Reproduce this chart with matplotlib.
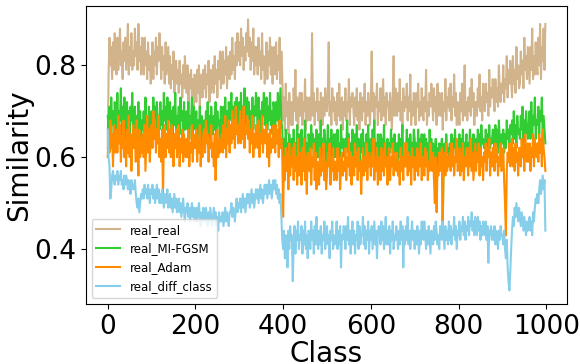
import numpy as np
import matplotlib
matplotlib.use("Agg")
import matplotlib.pyplot as plt

# values, one every 2 classes, in hundredths
# (each row = 20 classes)
classes = np.arange(0, 1000, 2)

real_real = np.array([
    62, 78, 86, 80, 84, 77, 85, 79, 87, 81,
    78, 86, 79, 84, 88, 80, 83, 77, 85, 81,
    86, 79, 83, 89, 78, 84, 80, 87, 79, 83,
    80, 88, 82, 85, 79, 89, 81, 84, 78, 86,
    84, 78, 86, 80, 83, 77, 85, 79, 82, 76,
    79, 85, 77, 83, 80, 86, 78, 84, 81, 87,
    83, 77, 84, 79, 82, 76, 85, 78, 81, 84,
    76, 82, 75, 80, 77, 83, 74, 79, 81, 76,
    79, 74, 81, 76, 78, 73, 80, 75, 82, 77,
    74, 80, 72, 78, 75, 79, 73, 77, 71, 78,
    77, 72, 79, 74, 80, 71, 76, 78, 73, 79,
    75, 80, 73, 78, 76, 81, 72, 79, 74, 77,
    80, 74, 82, 76, 79, 73, 81, 77, 83, 75,
    77, 83, 76, 81, 78, 84, 75, 80, 82, 77,
    83, 78, 86, 79, 82, 77, 85, 80, 87, 81,
    85, 80, 88, 82, 86, 79, 84, 81, 87, 83,
    90, 82, 86, 79, 85, 81, 88, 78, 84, 80,
    84, 78, 86, 80, 83, 77, 87, 79, 82, 76,
    79, 85, 77, 83, 80, 86, 78, 84, 76, 82,
    84, 78, 85, 77, 82, 79, 86, 76, 83, 78,
    68, 73, 66, 76, 69, 72, 65, 74, 70, 67,
    72, 67, 75, 70, 79, 68, 73, 66, 71, 74,
    69, 74, 67, 72, 70, 77, 66, 73, 68, 71,
    73, 68, 71, 87, 69, 74, 67, 72, 70, 75,
    68, 72, 66, 74, 70, 67, 73, 69, 75, 71,
    70, 74, 85, 69, 72, 67, 75, 70, 73, 68,
    72, 67, 74, 69, 76, 68, 71, 73, 66, 72,
    69, 75, 68, 72, 70, 77, 67, 73, 71, 74,
    71, 67, 73, 69, 75, 68, 72, 66, 74, 70,
    68, 73, 70, 76, 67, 72, 69, 74, 71, 67,
    72, 83, 70, 74, 68, 73, 71, 76, 67, 72,
    70, 75, 68, 72, 77, 69, 73, 67, 74, 71,
    72, 68, 74, 70, 66, 73, 82, 69, 75, 71,
    69, 74, 70, 77, 68, 72, 67, 75, 70, 73,
    71, 76, 68, 73, 70, 78, 67, 72, 69, 74,
    70, 67, 74, 71, 76, 68, 72, 69, 75, 70,
    68, 73, 70, 79, 67, 72, 69, 74, 71, 76,
    72, 68, 75, 70, 73, 67, 76, 69, 74, 70,
    69, 74, 66, 72, 70, 77, 68, 73, 71, 75,
    70, 76, 68, 73, 71, 78, 69, 74, 67, 72,
    71, 67, 74, 70, 76, 68, 73, 80, 69, 72,
    68, 73, 70, 75, 69, 77, 71, 74, 67, 72,
    72, 69, 75, 71, 78, 70, 73, 68, 76, 71,
    70, 76, 72, 74, 69, 79, 71, 75, 73, 77,
    73, 70, 77, 72, 75, 71, 80, 74, 72, 76,
    74, 80, 72, 77, 75, 82, 73, 79, 76, 81,
    77, 73, 82, 76, 79, 74, 84, 77, 80, 75,
    76, 83, 78, 81, 75, 86, 79, 82, 77, 84,
    80, 76, 84, 79, 88, 77, 82, 78, 85, 80,
    78, 86, 80, 89, 77, 84, 81, 88, 79, 89,
]) / 100

real_mifgsm = np.array([
    69, 66, 71, 64, 73, 67, 70, 63, 72, 68,
    66, 74, 65, 70, 68, 75, 64, 71, 67, 73,
    69, 64, 72, 66, 70, 63, 71, 68, 74, 65,
    67, 71, 63, 69, 66, 72, 64, 70, 62, 68,
    66, 70, 64, 73, 67, 69, 63, 71, 65, 68,
    70, 65, 73, 67, 71, 64, 72, 68, 69, 66,
    72, 67, 70, 65, 74, 68, 71, 66, 73, 69,
    68, 72, 66, 70, 64, 71, 67, 74, 65, 69,
    67, 71, 65, 73, 68, 70, 64, 72, 66, 69,
    70, 66, 72, 64, 69, 67, 73, 65, 71, 68,
    66, 70, 63, 68, 65, 71, 62, 69, 67, 64,
    68, 64, 70, 66, 72, 63, 69, 65, 71, 67,
    65, 69, 66, 72, 64, 70, 67, 68, 63, 71,
    69, 65, 71, 67, 73, 66, 70, 64, 72, 68,
    70, 74, 67, 71, 65, 72, 68, 73, 66, 70,
    72, 68, 74, 66, 71, 69, 75, 67, 70, 73,
    68, 72, 65, 70, 67, 73, 66, 71, 69, 74,
    71, 67, 73, 68, 70, 65, 72, 69, 74, 67,
    69, 73, 66, 71, 68, 74, 67, 70, 65, 72,
    70, 66, 72, 68, 74, 67, 71, 75, 68, 66,
    58, 64, 60, 66, 61, 63, 57, 65, 62, 60,
    64, 59, 66, 61, 63, 58, 67, 60, 65, 62,
    61, 66, 59, 64, 62, 68, 60, 63, 58, 65,
    63, 60, 67, 62, 65, 59, 64, 61, 66, 60,
    60, 65, 62, 68, 59, 64, 61, 66, 63, 58,
    62, 67, 60, 64, 61, 66, 58, 63, 65, 60,
    65, 61, 66, 59, 63, 60, 67, 62, 64, 61,
    60, 64, 62, 68, 61, 65, 59, 63, 60, 66,
    63, 59, 65, 61, 67, 60, 64, 58, 62, 65,
    61, 66, 60, 63, 59, 65, 62, 67, 60, 63,
    64, 60, 66, 62, 68, 59, 63, 61, 65, 60,
    62, 65, 59, 64, 61, 67, 60, 63, 58, 64,
    60, 63, 61, 66, 62, 64, 59, 65, 61, 63,
    63, 59, 65, 60, 64, 62, 67, 60, 63, 61,
    61, 66, 62, 64, 59, 65, 61, 63, 60, 66,
    64, 60, 63, 61, 66, 59, 64, 62, 65, 60,
    62, 65, 60, 64, 61, 63, 59, 66, 62, 64,
    60, 63, 61, 58, 64, 50, 62, 60, 63, 59,
    61, 64, 46, 60, 63, 59, 65, 61, 62, 60,
    63, 60, 65, 61, 64, 62, 66, 60, 63, 61,
    62, 65, 60, 64, 61, 66, 59, 63, 62, 65,
    60, 63, 61, 66, 62, 64, 60, 65, 61, 63,
    64, 61, 66, 62, 65, 60, 67, 63, 64, 62,
    62, 66, 63, 65, 61, 67, 62, 64, 63, 66,
    65, 62, 67, 63, 66, 61, 68, 64, 62, 65,
    63, 66, 61, 65, 62, 68, 64, 66, 63, 67,
    65, 68, 63, 70, 64, 67, 62, 69, 65, 66,
    64, 69, 66, 71, 63, 68, 65, 70, 67, 64,
    66, 70, 64, 72, 65, 69, 67, 73, 64, 68,
    67, 71, 65, 70, 68, 73, 64, 69, 66, 63,
]) / 100

real_adam = np.array([
    60, 66, 61, 68, 62, 65, 58, 67, 61, 64,
    66, 61, 69, 63, 67, 59, 65, 62, 68, 60,
    64, 58, 66, 61, 69, 60, 65, 57, 63, 67,
    62, 66, 59, 68, 63, 56, 66, 60, 64, 61,
    65, 60, 67, 57, 63, 69, 61, 66, 59, 64,
    67, 62, 70, 64, 68, 61, 66, 63, 69, 60,
    64, 59, 66, 52, 63, 67, 60, 65, 62, 68,
    61, 66, 60, 67, 63, 58, 65, 62, 66, 60,
    63, 67, 58, 64, 61, 66, 59, 65, 62, 60,
    64, 60, 66, 58, 63, 61, 67, 59, 65, 62,
    62, 66, 59, 64, 61, 67, 58, 63, 60, 65,
    66, 61, 68, 63, 65, 59, 64, 62, 67, 60,
    63, 58, 65, 55, 62, 66, 60, 64, 61, 63,
    65, 61, 67, 62, 69, 60, 66, 63, 68, 61,
    67, 63, 70, 64, 68, 62, 71, 65, 67, 63,
    66, 70, 63, 68, 64, 71, 62, 67, 65, 69,
    64, 68, 61, 66, 63, 69, 60, 65, 62, 67,
    66, 62, 68, 60, 65, 63, 69, 61, 66, 64,
    63, 67, 60, 65, 58, 66, 61, 64, 62, 67,
    65, 61, 67, 63, 66, 60, 68, 62, 64, 61,
    47, 60, 55, 62, 57, 61, 53, 63, 56, 60,
    58, 62, 55, 63, 57, 60, 54, 64, 56, 61,
    59, 54, 62, 57, 64, 55, 60, 52, 61, 58,
    57, 62, 54, 60, 58, 63, 55, 61, 53, 59,
    58, 54, 62, 56, 60, 57, 63, 55, 59, 53,
    56, 61, 58, 63, 54, 60, 57, 62, 55, 59,
    59, 55, 62, 57, 60, 53, 58, 61, 56, 59,
    57, 62, 55, 60, 58, 64, 56, 61, 54, 60,
    60, 56, 63, 58, 61, 55, 62, 57, 59, 52,
    58, 62, 56, 60, 57, 63, 55, 61, 58, 60,
    56, 61, 58, 64, 55, 60, 57, 62, 54, 59,
    60, 55, 62, 57, 61, 56, 63, 58, 60, 54,
    57, 62, 55, 60, 58, 63, 56, 61, 59, 57,
    61, 56, 59, 54, 62, 57, 60, 55, 63, 58,
    58, 63, 56, 61, 57, 60, 54, 62, 58, 60,
    55, 60, 57, 62, 56, 61, 58, 63, 55, 59,
    60, 56, 62, 58, 61, 55, 59, 57, 63, 58,
    57, 61, 55, 50, 60, 48, 58, 56, 61, 57,
    59, 62, 45, 58, 61, 56, 63, 57, 60, 58,
    61, 57, 63, 58, 62, 56, 60, 59, 64, 57,
    58, 62, 56, 61, 57, 63, 55, 60, 58, 62,
    60, 56, 62, 58, 64, 57, 61, 55, 59, 63,
    57, 61, 59, 63, 56, 62, 58, 60, 55, 61,
    59, 63, 57, 62, 60, 64, 56, 61, 58, 62,
    61, 57, 63, 59, 62, 56, 60, 58, 63, 57,
    58, 62, 55, 50, 43, 57, 61, 59, 63, 58,
    60, 64, 58, 62, 57, 63, 59, 61, 56, 62,
    62, 58, 64, 60, 63, 57, 65, 61, 59, 63,
    59, 63, 57, 62, 60, 65, 58, 64, 61, 60,
    63, 59, 65, 61, 64, 58, 66, 62, 60, 57,
]) / 100

real_diff_class = np.array([
    66, 60, 58, 51, 53, 56, 57, 55, 54, 56,
    55, 57, 54, 56, 55, 57, 54, 55, 53, 56,
    54, 56, 55, 53, 55, 54, 52, 55, 53, 54,
    53, 55, 52, 50, 49, 51, 48, 50, 52, 51,
    53, 51, 54, 52, 53, 51, 54, 52, 50, 53,
    52, 54, 51, 53, 50, 52, 54, 51, 53, 50,
    52, 50, 53, 51, 49, 52, 50, 51, 53, 49,
    50, 52, 49, 51, 48, 50, 52, 49, 51, 48,
    49, 51, 48, 50, 47, 49, 51, 48, 46, 49,
    48, 50, 47, 49, 46, 48, 50, 47, 49, 46,
    47, 49, 46, 48, 50, 47, 45, 48, 46, 49,
    48, 46, 49, 47, 45, 48, 46, 49, 47, 45,
    47, 49, 46, 48, 45, 47, 44, 48, 46, 47,
    46, 48, 45, 47, 49, 46, 48, 47, 45, 48,
    48, 50, 47, 49, 48, 46, 49, 51, 48, 50,
    49, 51, 48, 50, 52, 49, 51, 48, 50, 52,
    50, 52, 49, 51, 53, 50, 52, 49, 51, 53,
    51, 53, 50, 52, 54, 51, 53, 50, 52, 54,
    52, 54, 51, 53, 55, 52, 54, 51, 53, 55,
    53, 55, 52, 54, 51, 53, 50, 52, 47, 42,
    40, 44, 38, 43, 41, 36, 44, 40, 45, 42,
    43, 33, 41, 45, 39, 44, 42, 46, 40, 43,
    42, 45, 39, 44, 41, 46, 40, 43, 38, 44,
    43, 40, 46, 42, 44, 39, 45, 41, 47, 42,
    40, 44, 41, 45, 39, 43, 42, 46, 40, 44,
    45, 41, 43, 38, 44, 42, 46, 40, 43, 41,
    42, 46, 40, 44, 41, 45, 36, 43, 42, 45,
    44, 40, 45, 42, 47, 41, 44, 39, 43, 46,
    41, 44, 39, 43, 42, 46, 40, 45, 41, 43,
    43, 47, 41, 45, 40, 44, 42, 46, 39, 44,
    42, 45, 40, 43, 46, 41, 44, 38, 43, 45,
    44, 41, 46, 42, 45, 40, 43, 47, 41, 44,
    41, 45, 39, 44, 42, 46, 40, 43, 42, 45,
    43, 40, 44, 41, 46, 42, 45, 36, 44, 41,
    45, 42, 47, 41, 44, 40, 43, 46, 42, 44,
    40, 44, 41, 45, 42, 39, 44, 41, 46, 43,
    42, 46, 43, 40, 44, 41, 45, 42, 39, 44,
    43, 41, 45, 42, 46, 44, 41, 43, 40, 45,
    44, 42, 46, 43, 40, 45, 42, 44, 41, 46,
    42, 45, 41, 44, 43, 47, 42, 45, 40, 44,
    43, 46, 42, 45, 44, 47, 43, 46, 42, 45,
    44, 47, 43, 46, 45, 48, 44, 46, 43, 47,
    45, 43, 47, 44, 46, 42, 45, 43, 46, 44,
    43, 46, 42, 45, 37, 44, 43, 45, 42, 44,
    42, 45, 41, 44, 43, 40, 44, 42, 45, 43,
    43, 41, 44, 40, 38, 42, 36, 33, 31, 35,
    40, 44, 47, 45, 49, 47, 50, 48, 46, 49,
    47, 45, 48, 46, 44, 47, 45, 43, 46, 44,
    45, 47, 44, 46, 43, 48, 46, 49, 51, 50,
    52, 50, 53, 55, 52, 54, 56, 53, 55, 44,
]) / 100

fig = plt.figure(figsize=(5.8, 3.64), dpi=100)
ax = fig.add_axes([0.148, 0.165, 0.83, 0.819])

ax.plot(classes, real_real,       color="tan",        lw=1.5, label="real_real")
ax.plot(classes, real_mifgsm,     color="limegreen",  lw=1.5, label="real_MI-FGSM")
ax.plot(classes, real_adam,       color="darkorange", lw=1.5, label="real_Adam")
ax.plot(classes, real_diff_class, color="skyblue",    lw=1.5, label="real_diff_class")

ax.set_xlabel("Class", fontsize=20, labelpad=0)
ax.set_ylabel("Similarity", fontsize=20, labelpad=1)
ax.tick_params(labelsize=19)
ax.set_xticks([0, 200, 400, 600, 800, 1000])
ax.set_yticks([0.4, 0.6, 0.8])
ax.legend(loc="lower left", fontsize=8.5)

fig.savefig("out.png", dpi=100)
